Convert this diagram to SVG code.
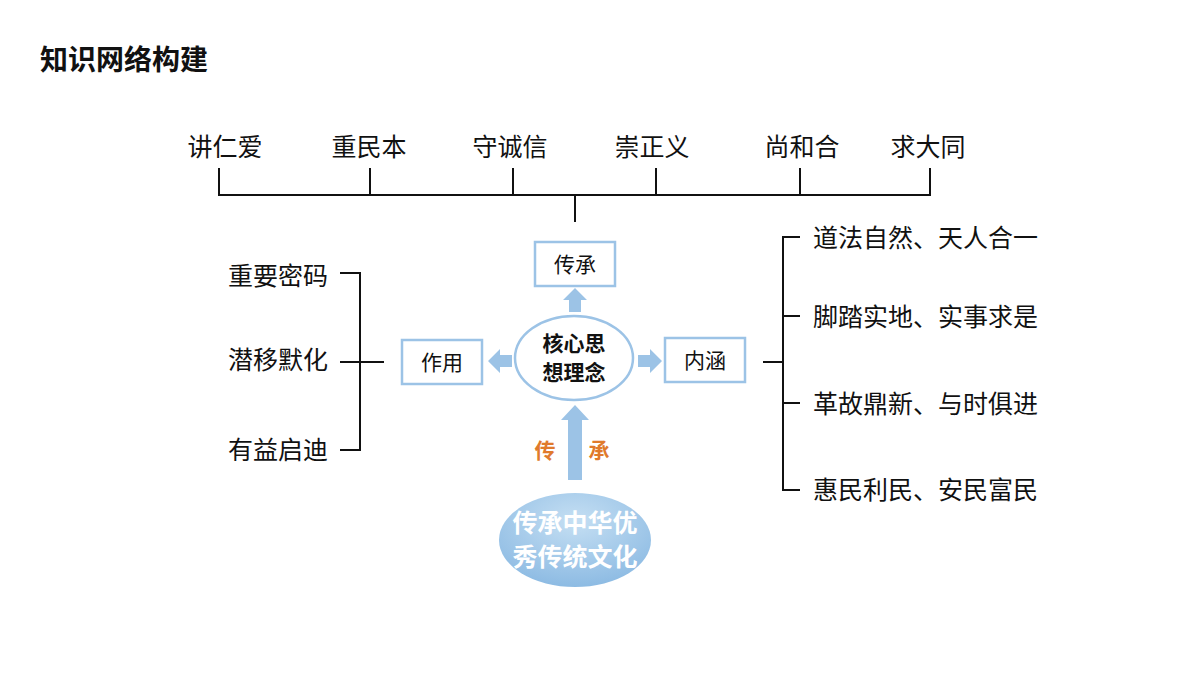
<svg xmlns="http://www.w3.org/2000/svg" width="1200" height="675" viewBox="0 0 1200 675">
<style>
.t{font-family:"Noto Sans CJK SC","Noto Sans",sans-serif;font-size:25px;fill:#111}
.b{font-family:"Noto Sans CJK SC",sans-serif;font-size:21px;fill:#111;text-anchor:middle}
.ln{stroke:#111;stroke-width:2;fill:none}
.bx{fill:#fff;stroke:#9cc3e6;stroke-width:2.5}
.ar{fill:#9cc3e6}
</style>
<defs><radialGradient id="g" cx="0.5" cy="0.3" r="0.7"><stop offset="0" stop-color="#c5dff3"/><stop offset="1" stop-color="#8dbbe3"/></radialGradient></defs>
<rect width="1200" height="675" fill="#fff"/>
<text x="40" y="70" font-family="Noto Sans CJK SC,sans-serif" font-size="28" font-weight="bold" fill="#111">知识网络构建</text>
<g id="connectors">
<path class="ln" d="M219 168V195H930V168M370 168V195M513 168V195M656 168V195M800 168V195M575 195V222"/>
<path class="ln" d="M340 273H360V450H340M340 362H384"/>
<path class="ln" d="M800 237H783V490H800M783 316H800M783 403H800M763 362H783"/>
<path class="ar" d="M569 312V300H563L575 288L587 300H581V312Z"/>
<path class="ar" d="M512 355H500V349L488 361L500 373V367H512Z"/>
<path class="ar" d="M638 355H650V349L662 361L650 373V367H638Z"/>
<path class="ar" d="M568 480V420H561L575 405L589 420H582V480Z"/>
</g>
<g id="top" class="t" text-anchor="middle">
<text x="225" y="156">讲仁爱</text><text x="369" y="156">重民本</text><text x="510" y="156">守诚信</text>
<text x="652" y="156">崇正义</text><text x="802" y="156">尚和合</text><text x="928" y="156">求大同</text>
</g>
<g id="n-chuancheng"><rect class="bx" x="535" y="242" width="80" height="44"/><text class="b" x="575" y="272">传承</text></g>
<g id="n-zuoyong"><rect class="bx" x="402" y="340" width="80" height="44"/><text class="b" x="442" y="370">作用</text></g>
<g id="n-neihan"><rect class="bx" x="665" y="338" width="80" height="44"/><text class="b" x="705" y="368">内涵</text></g>
<g id="n-core"><ellipse cx="574" cy="358" rx="59" ry="42" fill="#fff" stroke="#9cc3e6" stroke-width="2.5"/>
<text class="b" x="574" y="351" font-weight="bold">核心思</text><text class="b" x="574" y="380" font-weight="bold">想理念</text></g>
<g id="n-culture"><ellipse cx="575" cy="540" rx="76" ry="47" fill="url(#g)"/>
<text x="575" y="532" text-anchor="middle" font-family="Noto Sans CJK SC,sans-serif" font-size="25" font-weight="bold" fill="#fff">传承中华优</text>
<text x="575" y="566" text-anchor="middle" font-family="Noto Sans CJK SC,sans-serif" font-size="25" font-weight="bold" fill="#fff">秀传统文化</text></g>
<g id="lbl" font-family="Noto Sans CJK SC,sans-serif" font-size="21" font-weight="bold" fill="#e07a2c" text-anchor="middle"><text x="545" y="458">传</text><text x="599" y="458">承</text></g>
<g id="left" class="t" text-anchor="end">
<text x="328" y="285">重要密码</text><text x="328" y="369">潜移默化</text><text x="328" y="459">有益启迪</text>
</g>
<g id="right" class="t">
<text x="813" y="247">道法自然、天人合一</text><text x="813" y="326">脚踏实地、实事求是</text>
<text x="813" y="413">革故鼎新、与时俱进</text><text x="813" y="499">惠民利民、安民富民</text>
</g>
</svg>
